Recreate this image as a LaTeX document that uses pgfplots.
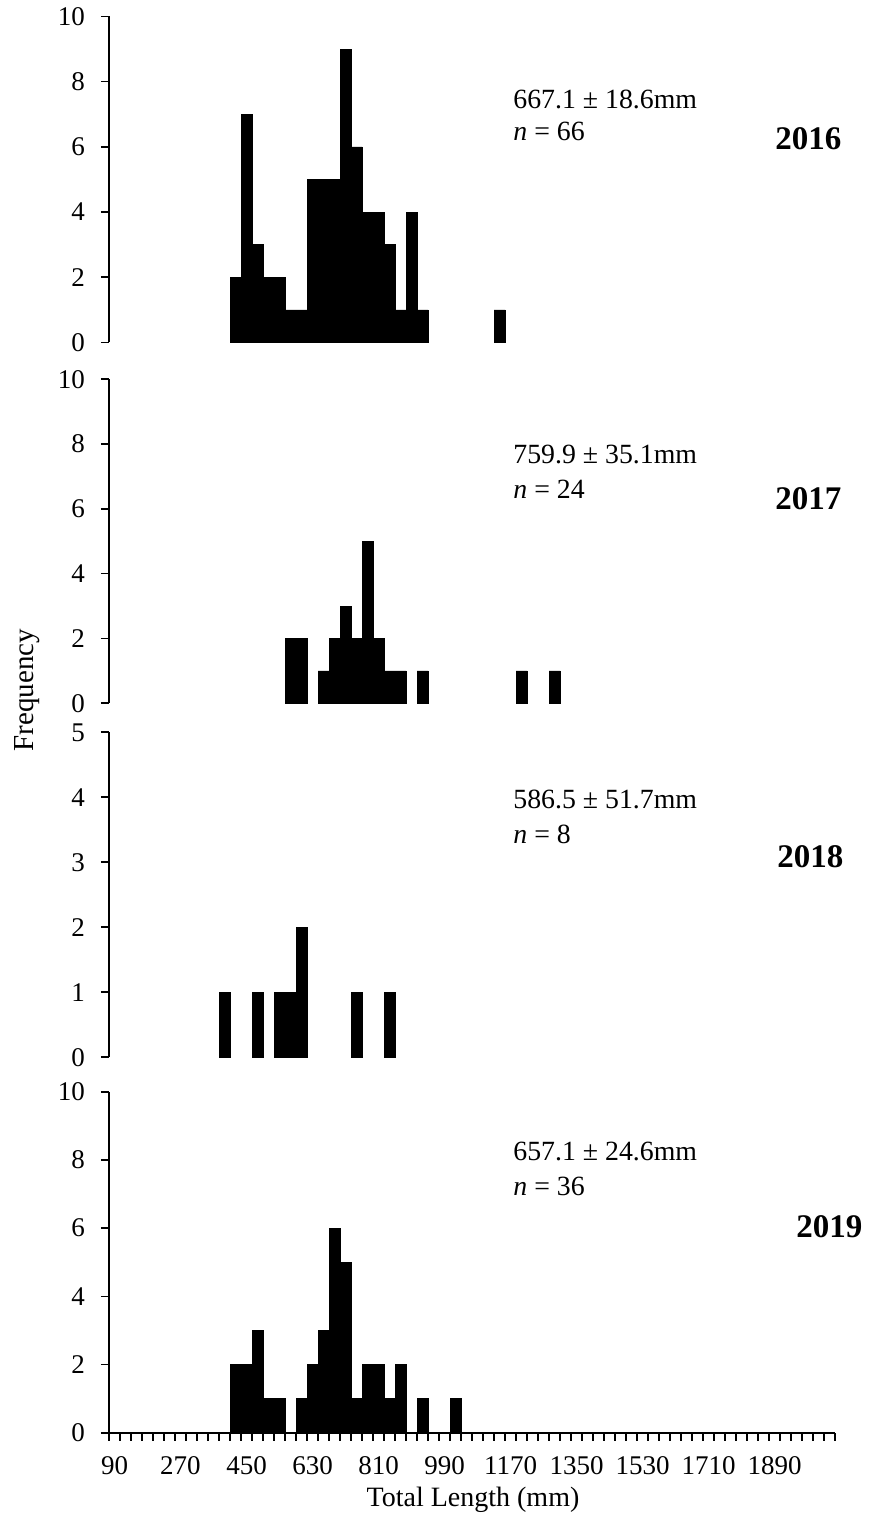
\documentclass[border=0pt]{standalone}
\usepackage{fontspec}
\setmainfont{Liberation Serif}
\usepackage{pgfplots}
\pgfplotsset{compat=1.18}
\newcommand{\tk}{\fontsize{13.5}{13.5}\selectfont}
\newcommand{\an}{\fontsize{13.9}{16}\selectfont}
\newcommand{\yr}{\fontsize{16.5}{18}\selectfont\bfseries}
\pgfplotsset{
  hist/.style={
    scale only axis, width=363pt,
    xmin=75, xmax=2055, ymin=0,
    enlargelimits=false,
    axis y line=left,
    axis line style={-, line width=0.8pt},
    ytick style={line width=0.8pt, black},
    major tick length=4pt,
    xticklabel style={font=\tk, yshift=-4.5pt},
    yticklabel style={font=\tk, xshift=-4.5pt},
    /pgf/number format/assume math mode=true,
    /pgf/number format/1000 sep={},
    clip=false,
  },
  bars/.style={ybar, bar width=30, bar shift=0pt, fill=black, draw=black, line width=0.2pt},
}
\begin{document}
\begin{tikzpicture}
\path[use as bounding box] (0pt,0pt) rectangle (435pt,761.5pt);
% 2016
\begin{axis}[hist, at={(54.5pt,590.25pt)}, anchor=south west, height=163pt, ymax=10,
  ytick={0,2,...,10}, axis x line=none, xtick=\empty, tick align=outside]
\addplot[bars] coordinates {(420,2) (450,7) (480,3) (510,2) (540,2) (570,1) (600,1)
 (630,5) (660,5) (690,5) (720,9) (750,6) (780,4) (810,4) (840,3) (870,1) (900,4) (930,1) (1140,1)};
\end{axis}
% 2017
\begin{axis}[hist, at={(54.5pt,409.85pt)}, anchor=south west, height=162pt, ymax=10,
  ytick={0,2,...,10}, axis x line=none, xtick=\empty, tick align=outside]
\addplot[bars] coordinates {(570,2) (600,2) (660,1) (690,2) (720,3) (750,2) (780,5)
 (810,2) (840,1) (870,1) (930,1) (1200,1) (1290,1)};
\end{axis}
% 2018
\begin{axis}[hist, at={(54.5pt,232.85pt)}, anchor=south west, height=162.5pt, ymax=5,
  ytick={0,1,...,5}, axis x line=none, xtick=\empty, tick align=outside]
\addplot[bars] coordinates {(390,1) (480,1) (540,1) (570,1) (600,2) (750,1) (840,1)};
\end{axis}
% 2019
\begin{axis}[hist, at={(54.5pt,45.15pt)}, anchor=south west, height=170.5pt, ymax=10,
  ytick={0,2,...,10}, axis x line=bottom,
  x axis line style={-}, every outer x axis line/.append style={-},
  every inner x axis line/.append style={-},
  tick align=outside,
  xtick={90,270,...,1890}, minor xtick={75,105,...,2055},
  xtick style={line width=0.8pt, black},
  major x tick style={draw=none}, minor tick length=4pt]
\addplot[bars] coordinates {(420,2) (450,2) (480,3) (510,1) (540,1) (600,1) (630,2)
 (660,3) (690,6) (720,5) (750,1) (780,2) (810,2) (840,1) (870,2) (930,1) (1020,1)};
\end{axis}
% annotations
\node[anchor=base west, font=\an, inner sep=0] at (256.5pt,707pt) {667.1 ± 18.6mm};
\node[anchor=base west, font=\an, inner sep=0] at (256.5pt,691pt) {\textit{n} = 66};
\node[anchor=base west, font=\yr, inner sep=0] at (387.5pt,686.5pt) {2016};
\node[anchor=base west, font=\an, inner sep=0] at (256.5pt,529.5pt) {759.9 ± 35.1mm};
\node[anchor=base west, font=\an, inner sep=0] at (256.5pt,512pt) {\textit{n} = 24};
\node[anchor=base west, font=\yr, inner sep=0] at (387.5pt,506.5pt) {2017};
\node[anchor=base west, font=\an, inner sep=0] at (256.5pt,357pt) {586.5 ± 51.7mm};
\node[anchor=base west, font=\an, inner sep=0] at (256.5pt,339.5pt) {\textit{n} = 8};
\node[anchor=base west, font=\yr, inner sep=0] at (388.5pt,327.5pt) {2018};
\node[anchor=base west, font=\an, inner sep=0] at (256.5pt,181pt) {657.1 ± 24.6mm};
\node[anchor=base west, font=\an, inner sep=0] at (256.5pt,163.5pt) {\textit{n} = 36};
\node[anchor=base west, font=\yr, inner sep=0] at (398pt,142.5pt) {2019};
\node[rotate=90, font=\fontsize{14.5}{16}\selectfont] at (13.5pt,416.5pt) {Frequency};
\node[font=\fontsize{14}{16}\selectfont] at (236.5pt,11.5pt) {Total Length (mm)};
\end{tikzpicture}
\end{document}
